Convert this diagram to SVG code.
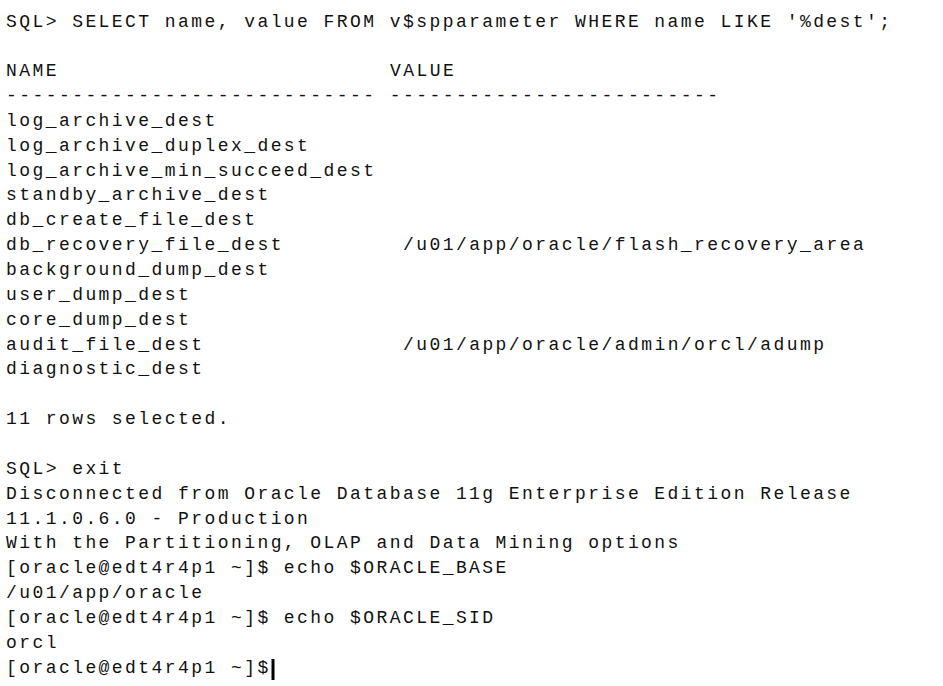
<svg xmlns="http://www.w3.org/2000/svg" width="943" height="686" viewBox="0 0 943 686">
<style>
.t{font-family:"Liberation Mono","Courier New",monospace;font-size:18px;letter-spacing:2.43px;fill:#111;}
</style>
<rect x="0" y="0" width="943" height="686" fill="#ffffff"/>
<g id="terminal">
<text class="t" x="6" y="26.5">SQL&gt; SELECT name, value FROM v$spparameter WHERE name LIKE '%dest';</text>
<text class="t" x="6" y="76.2">NAME</text>
<text class="t" x="390" y="76.2">VALUE</text>
<text class="t" x="6" y="101">---------------------------- -------------------------</text>
<text class="t" x="6" y="125.9">log_archive_dest</text>
<text class="t" x="6" y="150.7">log_archive_duplex_dest</text>
<text class="t" x="6" y="175.6">log_archive_min_succeed_dest</text>
<text class="t" x="6" y="200.4">standby_archive_dest</text>
<text class="t" x="6" y="225.3">db_create_file_dest</text>
<text class="t" x="6" y="250.2">db_recovery_file_dest</text>
<text class="t" x="403" y="250.2">/u01/app/oracle/flash_recovery_area</text>
<text class="t" x="6" y="275">background_dump_dest</text>
<text class="t" x="6" y="299.9">user_dump_dest</text>
<text class="t" x="6" y="324.7">core_dump_dest</text>
<text class="t" x="6" y="349.6">audit_file_dest</text>
<text class="t" x="403" y="349.6">/u01/app/oracle/admin/orcl/adump</text>
<text class="t" x="6" y="374.4">diagnostic_dest</text>
<text class="t" x="6" y="424.1">11 rows selected.</text>
<text class="t" x="6" y="473.8">SQL&gt; exit</text>
<text class="t" x="6" y="498.7">Disconnected from Oracle Database 11g Enterprise Edition Release</text>
<text class="t" x="6" y="523.5">11.1.0.6.0 - Production</text>
<text class="t" x="6" y="548.4">With the Partitioning, OLAP and Data Mining options</text>
<text class="t" x="6" y="573.2">[oracle@edt4r4p1 ~]$ echo $ORACLE_BASE</text>
<text class="t" x="6" y="598.1">/u01/app/oracle</text>
<text class="t" x="6" y="622.9">[oracle@edt4r4p1 ~]$ echo $ORACLE_SID</text>
<text class="t" x="6" y="647.8">orcl</text>
<text class="t" x="6" y="672.6">[oracle@edt4r4p1 ~]$</text>
<rect x="271.5" y="659" width="3" height="21" fill="#000"/>
</g>
</svg>
